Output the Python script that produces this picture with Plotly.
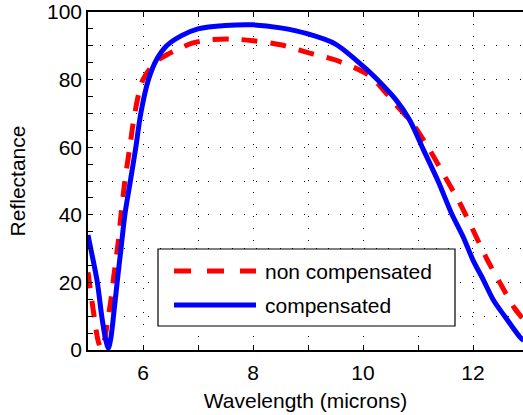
import plotly.graph_objects as go

# Data
wl_noncomp = [5.0, 5.05, 5.12, 5.18, 5.24, 5.3, 5.36, 5.41, 5.47, 5.55, 5.6, 5.67, 5.76, 5.85,
              6.0, 6.25, 6.45, 6.64, 6.88, 7.17, 7.6, 8.0, 8.5, 9.0, 9.5, 10.0, 10.2, 10.6,
              10.9, 11.22, 11.5, 11.76, 12.0, 12.25, 12.54, 12.75, 12.92]
refl_noncomp = [23, 17, 9, 3, 0.3, 3, 9, 14, 22, 32, 40, 50, 60, 70,
                80, 85.5, 87.5, 89, 90.7, 91.7, 92, 91.5, 90.3, 88, 85.8, 82.3, 80, 72.5,
                67, 59, 51, 43.5, 35.5, 27, 18.4, 12.5, 9]

wl_comp = [5.0, 5.1, 5.17, 5.25, 5.31, 5.37, 5.42, 5.47, 5.53, 5.6, 5.67, 5.77, 5.87, 5.96,
           6.1, 6.25, 6.43, 6.7, 7.0, 7.5, 8.0, 8.5, 9.0, 9.5, 10.0, 10.2, 10.6, 10.85,
           11.1, 11.37, 11.61, 11.82, 12.0, 12.19, 12.37, 12.58, 12.85, 12.92]
refl_comp = [34, 26, 20, 10, 4, 0.5, 4, 11, 20, 30, 40, 50, 60, 70,
             80, 86, 90, 93, 95, 96, 96.2, 95.3, 93.5, 90.5, 84, 81, 74, 68,
             59.2, 49.8, 40.4, 33.5, 26.6, 20.7, 14.8, 9.9, 3.9, 2.8]

x_tickvals = [5, 6, 7, 8, 9, 10, 11, 12, 13]
x_ticktext = ["", "6", "", "8", "", "10", "", "12", ""]
y_tickvals = [0, 10, 20, 30, 40, 50, 60, 70, 80, 90, 100]
y_ticktext = ["0", "", "20", "", "40", "", "60", "", "80", "", "100"]

series_names = ["non compensated", "compensated"]
FONT = "Liberation Sans, Arial, Helvetica, sans-serif"
FS = 21

fig = go.Figure()
fig.add_trace(go.Scatter(x=wl_noncomp, y=refl_noncomp, mode="lines", name=series_names[0],
                         line=dict(color="#ff0000", width=5, dash="16px,13px", shape="spline",
                                   smoothing=0.8),
                         showlegend=False))
fig.add_trace(go.Scatter(x=wl_comp, y=refl_comp, mode="lines", name=series_names[1],
                         line=dict(color="#0000ff", width=5, shape="spline", smoothing=0.8),
                         showlegend=False))

grid = dict(showgrid=True, gridcolor="#000000", griddash="1px,11px", gridwidth=1)

fig.update_layout(
    width=523, height=415,
    margin=dict(l=88, r=0, t=12, b=65),
    paper_bgcolor="white", plot_bgcolor="white",
    font=dict(family=FONT, size=FS, color="black"),
    xaxis=dict(range=[5, 12.909], tickmode="array", tickvals=x_tickvals, ticktext=x_ticktext,
               ticks="inside", ticklen=5, tickcolor="black", showline=True, linecolor="black",
               linewidth=1.5, mirror="ticks", zeroline=False, ticklabelstandoff=3,
               title=dict(text="Wavelength (microns)", standoff=10,
                          font=dict(family=FONT, size=FS)),
               tickfont=dict(family=FONT, size=FS), **grid),
    yaxis=dict(range=[0, 100], tickmode="array", tickvals=y_tickvals, ticktext=y_ticktext,
               ticks="inside", ticklen=5, tickcolor="black", showline=True, linecolor="black",
               linewidth=1.5, mirror=False, zeroline=False,
               minor=dict(tickmode="linear", tick0=0, dtick=5, ticks="inside", ticklen=5,
                          tickcolor="black", showgrid=False),
               title=dict(text="Reflectance", standoff=16, font=dict(family=FONT, size=FS)),
               tickfont=dict(family=FONT, size=FS), **grid),
)

# Custom legend box (MATLAB style)
def px_x(px):
    return (px - 88) / 435.0

def px_y(py):
    return (350 - py) / 338.0

fig.add_shape(type="rect", xref="paper", yref="paper",
              x0=px_x(158), x1=px_x(455), y0=px_y(326), y1=px_y(249),
              line=dict(color="black", width=1.2), fillcolor="white", layer="above")
fig.add_shape(type="line", xref="paper", yref="paper",
              x0=px_x(174), x1=px_x(256), y0=px_y(271), y1=px_y(271),
              line=dict(color="#ff0000", width=5, dash="17px,16px"), layer="above")
fig.add_shape(type="line", xref="paper", yref="paper",
              x0=px_x(174), x1=px_x(256), y0=px_y(305), y1=px_y(305),
              line=dict(color="#0000ff", width=5), layer="above")
fig.add_annotation(xref="paper", yref="paper", x=px_x(263), y=px_y(271),
                   xanchor="left", yanchor="middle", showarrow=False,
                   text=series_names[0], font=dict(family=FONT, size=FS, color="black"))
fig.add_annotation(xref="paper", yref="paper", x=px_x(263), y=px_y(305),
                   xanchor="left", yanchor="middle", showarrow=False,
                   text=series_names[1], font=dict(family=FONT, size=FS, color="black"))

fig.write_html("out.html")
